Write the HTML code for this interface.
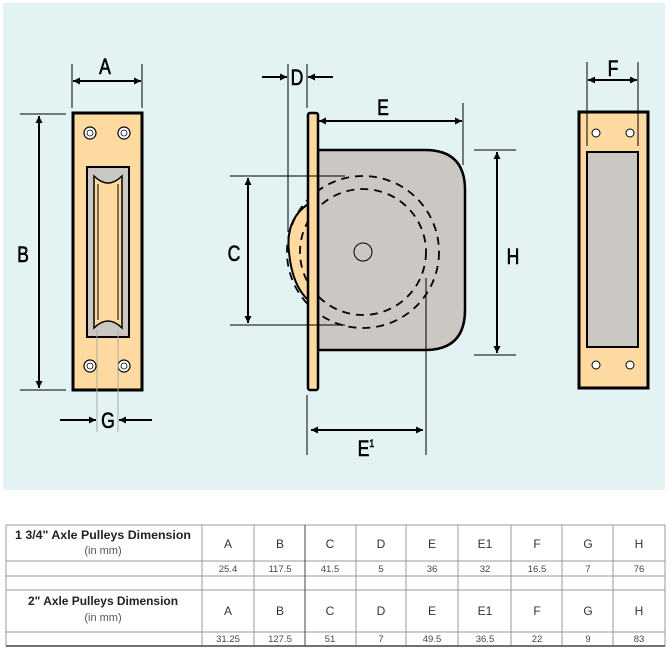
<!DOCTYPE html>
<html><head><meta charset="utf-8"><style>
html,body{margin:0;padding:0;background:#fff;}
svg{display:block;}
text{font-family:"Liberation Sans",sans-serif;}
</style></head><body>
<svg width="672" height="654" viewBox="0 0 672 654" xmlns="http://www.w3.org/2000/svg">
<defs>
<marker id="ah" viewBox="0 0 10 10" refX="10" refY="5" markerWidth="7" markerHeight="7" orient="auto-start-reverse" markerUnits="userSpaceOnUse"><path d="M0,0 L10,5 L0,10 z" fill="#000"/></marker>
</defs>
<rect x="3" y="3" width="662" height="487" fill="#e3f2f2"/>

<!-- LEFT PLATE -->
<rect x="73" y="113" width="69" height="277" fill="#fed9a0" stroke="#000" stroke-width="3"/>
<rect x="87" y="167" width="42" height="170" fill="#cbc7c2" stroke="#000" stroke-width="2"/>
<path d="M94,176 Q108,190 122,176 L122,328 Q108,314 94,328 Z" fill="#fed9a0" stroke="#000" stroke-width="1.5"/>
<path d="M98,184 L98,320 M118,184 L118,320" stroke="#000" stroke-width="1"/>
<g fill="#fff" stroke="#000" stroke-width="1.2">
<circle cx="90" cy="133" r="6"/><circle cx="124" cy="133" r="6"/>
<circle cx="90" cy="366" r="6"/><circle cx="124" cy="366" r="6"/>
</g>
<g fill="none" stroke="#000" stroke-width="0.8"><circle cx="90" cy="133" r="3"/><circle cx="124" cy="133" r="3"/><circle cx="90" cy="366" r="3"/><circle cx="124" cy="366" r="3"/></g>
<g stroke="#000" stroke-width="1">
<line x1="72" y1="64" x2="72" y2="108"/><line x1="142" y1="64" x2="142" y2="108"/>
<line x1="20" y1="114" x2="66" y2="114"/><line x1="20" y1="390" x2="66" y2="390"/>
</g>
<g stroke="#aaa" stroke-width="1"><line x1="97" y1="330" x2="97" y2="432"/><line x1="118" y1="330" x2="118" y2="432"/></g>
<g stroke="#000" stroke-width="2" marker-start="url(#ah)" marker-end="url(#ah)">
<line x1="73" y1="81" x2="141" y2="81"/>
<line x1="39" y1="116" x2="39" y2="388"/>
</g>
<g stroke="#000" stroke-width="2" marker-end="url(#ah)">
<line x1="60" y1="420" x2="96" y2="420"/><line x1="152" y1="420" x2="119" y2="420"/>
</g>

<!-- MIDDLE -->
<path d="M318,150 L425,150 Q465,150 465,190 L465,310 Q465,350 425,350 L318,350 Z" fill="#cbc7c2" stroke="#000" stroke-width="2.5"/>
<path d="M308,204 Q285,220 289,252 Q292,285 308,300 Z" fill="#fed9a0" stroke="#000" stroke-width="2"/>
<g fill="none" stroke="#000" stroke-width="1.8" stroke-dasharray="8,6">
<circle cx="363" cy="252" r="76"/><circle cx="363" cy="252" r="63"/>
</g>
<circle cx="363" cy="252" r="9" fill="none" stroke="#000" stroke-width="1"/>
<rect x="308" y="113" width="10" height="277" rx="2" fill="#fed9a0" stroke="#000" stroke-width="2.5"/>
<g stroke="#000" stroke-width="1">
<line x1="288" y1="64" x2="288" y2="232"/><line x1="307" y1="64" x2="307" y2="108"/>
<line x1="463" y1="103" x2="463" y2="165"/>
<line x1="230" y1="176" x2="345" y2="176"/><line x1="230" y1="325" x2="345" y2="325"/>
<line x1="474" y1="150" x2="516" y2="150"/><line x1="474" y1="355" x2="516" y2="355"/>
<line x1="307" y1="395" x2="307" y2="455"/><line x1="426" y1="278" x2="426" y2="455"/>
</g>
<g stroke="#000" stroke-width="2" marker-end="url(#ah)">
<line x1="262" y1="77" x2="287" y2="77"/><line x1="333" y1="77" x2="308" y2="77"/>
</g>
<g stroke="#000" stroke-width="2" marker-start="url(#ah)" marker-end="url(#ah)">
<line x1="319" y1="121" x2="462" y2="121"/>
<line x1="248" y1="178" x2="248" y2="323"/>
<line x1="497" y1="152" x2="497" y2="353"/>
<line x1="311" y1="430" x2="423" y2="430"/>
</g>

<!-- RIGHT PLATE -->
<rect x="579" y="112" width="69" height="276" fill="#fed9a0" stroke="#000" stroke-width="3"/>
<rect x="587" y="152" width="51" height="195" fill="#cbc7c2" stroke="#000" stroke-width="2"/>
<g fill="#fff" stroke="#000" stroke-width="1">
<circle cx="596" cy="133" r="4"/><circle cx="630" cy="133" r="4"/>
<circle cx="596" cy="365" r="4"/><circle cx="630" cy="365" r="4"/>
</g>
<g stroke="#000" stroke-width="1"><line x1="587" y1="62" x2="587" y2="146"/><line x1="638" y1="62" x2="638" y2="146"/></g>
<line x1="588" y1="80" x2="637" y2="80" stroke="#000" stroke-width="2" marker-start="url(#ah)" marker-end="url(#ah)"/>

<!-- LABELS -->
<g font-size="22" fill="#000" stroke="#000" stroke-width="0.6" text-anchor="middle">
<text x="105" y="74" transform="translate(105,0) scale(0.8,1) translate(-105,0)">A</text>
<text x="23" y="262" transform="translate(23,0) scale(0.8,1) translate(-23,0)">B</text>
<text x="108" y="428" transform="translate(108,0) scale(0.8,1) translate(-108,0)">G</text>
<text x="297" y="85" transform="translate(297,0) scale(0.8,1) translate(-297,0)">D</text>
<text x="383" y="115" transform="translate(383,0) scale(0.8,1) translate(-383,0)">E</text>
<text x="234" y="261" transform="translate(234,0) scale(0.8,1) translate(-234,0)">C</text>
<text x="513" y="264" transform="translate(513,0) scale(0.8,1) translate(-513,0)">H</text>
<text x="366" y="456" transform="translate(366,0) scale(0.8,1) translate(-366,0)">E<tspan font-size="11" dy="-9">1</tspan></text>
<text x="613" y="76" transform="translate(613,0) scale(0.8,1) translate(-613,0)">F</text>
</g>

<!-- TABLE -->
<g stroke="#999" stroke-width="1" fill="none">
<line x1="6" y1="525" x2="665" y2="525"/>
<line x1="6" y1="561" x2="665" y2="561"/>
<line x1="6" y1="576" x2="665" y2="576"/>
<line x1="6" y1="590" x2="665" y2="590"/>
<line x1="6" y1="632" x2="665" y2="632"/>
<line x1="6" y1="525" x2="6" y2="646"/>
<line x1="665" y1="525" x2="665" y2="646"/>
<line x1="202" y1="525" x2="202" y2="646"/>
<line x1="254" y1="525" x2="254" y2="646"/>
<line x1="305" y1="525" x2="305" y2="646"/>
<line x1="356" y1="525" x2="356" y2="646"/>
<line x1="406" y1="525" x2="406" y2="646"/>
<line x1="458" y1="525" x2="458" y2="646"/>
<line x1="511" y1="525" x2="511" y2="646"/>
<line x1="562" y1="525" x2="562" y2="646"/>
<line x1="613" y1="525" x2="613" y2="646"/>
</g>
<line x1="6" y1="646" x2="665" y2="646" stroke="#444" stroke-width="1.5"/>
<line x1="305" y1="525" x2="305" y2="646" stroke="#444" stroke-width="1"/>
<g font-size="11.5" font-weight="bold" fill="#222">
<text x="15" y="539" textLength="176" lengthAdjust="spacingAndGlyphs">1  3/4" Axle Pulleys  Dimension</text>
<text x="28" y="605" textLength="150" lengthAdjust="spacingAndGlyphs">2" Axle Pulleys Dimension</text>
</g>
<g font-size="11" fill="#555" text-anchor="middle">
<text x="103" y="554">(in mm)</text>
<text x="103" y="621">(in mm)</text>
</g>
<g font-size="12" fill="#333" text-anchor="middle">
<text x="228" y="548">A</text><text x="280" y="548">B</text><text x="330" y="548">C</text><text x="381" y="548">D</text><text x="432" y="548">E</text><text x="485" y="548">E1</text><text x="537" y="548">F</text><text x="588" y="548">G</text><text x="639" y="548">H</text>
<text x="228" y="615">A</text><text x="280" y="615">B</text><text x="330" y="615">C</text><text x="381" y="615">D</text><text x="432" y="615">E</text><text x="485" y="615">E1</text><text x="537" y="615">F</text><text x="588" y="615">G</text><text x="639" y="615">H</text>
</g>
<g font-size="9.5" fill="#444" text-anchor="middle">
<text x="228" y="572">25.4</text><text x="280" y="572">117.5</text><text x="330" y="572">41.5</text><text x="381" y="572">5</text><text x="432" y="572">36</text><text x="485" y="572">32</text><text x="537" y="572">16.5</text><text x="588" y="572">7</text><text x="639" y="572">76</text>
<text x="228" y="642">31.25</text><text x="280" y="642">127.5</text><text x="330" y="642">51</text><text x="381" y="642">7</text><text x="432" y="642">49.5</text><text x="485" y="642">36.5</text><text x="537" y="642">22</text><text x="588" y="642">9</text><text x="639" y="642">83</text>
</g>
</svg>
</body></html>
